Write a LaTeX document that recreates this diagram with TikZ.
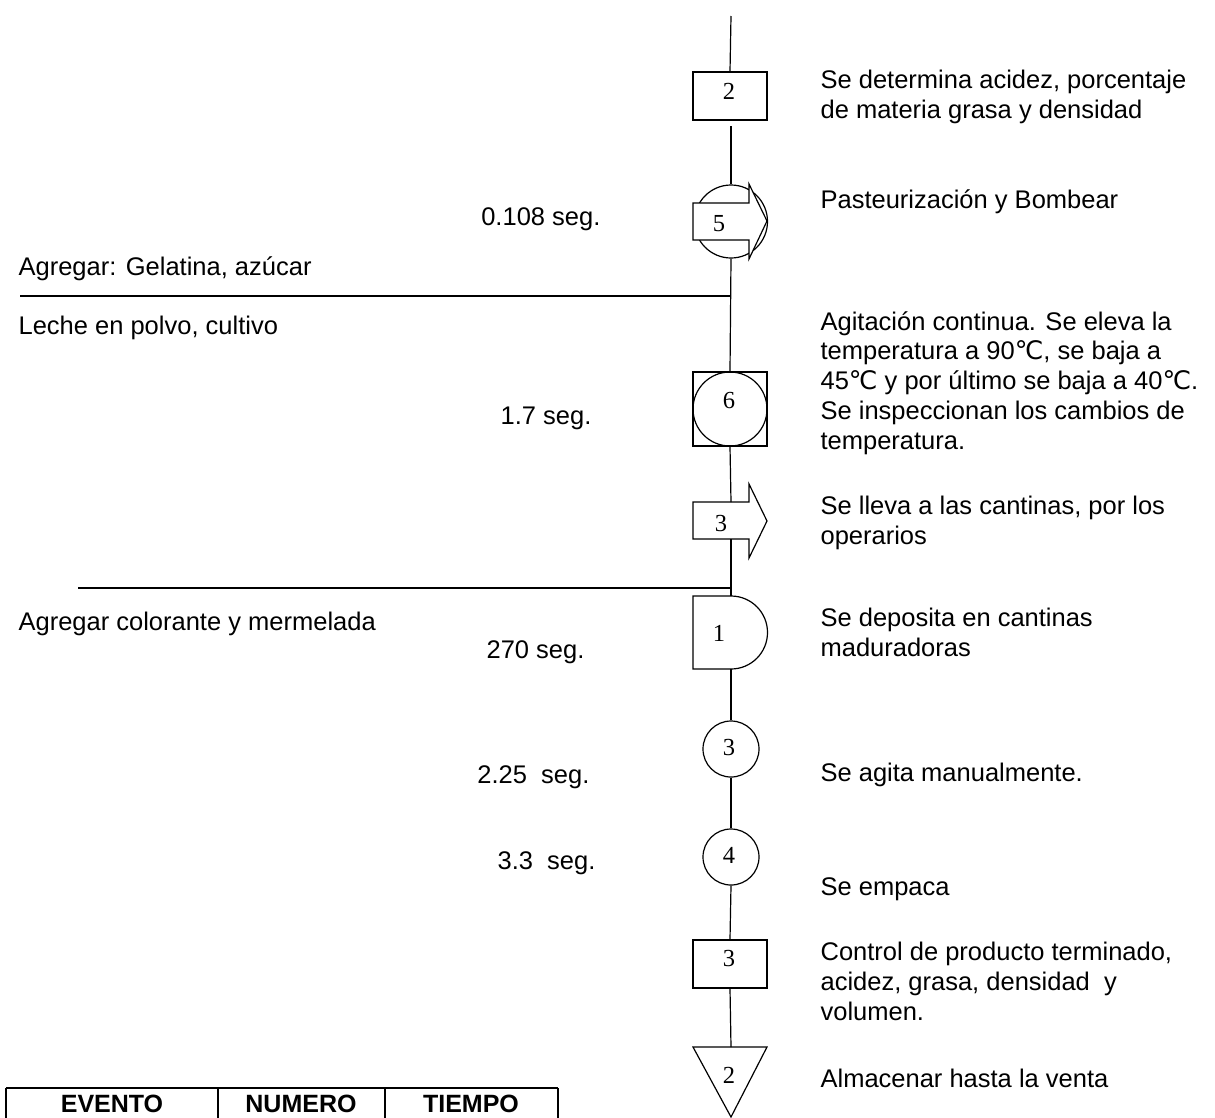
\documentclass[tikz,border=0pt]{standalone}
\usepackage{fontspec}
\setmainfont{Liberation Sans}
\newfontfamily\numfont{Liberation Serif}
\newfontfamily\symfont{DejaVu Sans}
\newcommand{\degc}{{\symfont ℃}}
\begin{document}
\begin{tikzpicture}[x=1pt,y=-1pt,line width=1.2pt,
  txt/.style={anchor=base west,inner sep=0pt,align=left,font=\fontsize{25.5}{29.7}\selectfont},
  tim/.style={anchor=base east,inner sep=0pt,font=\fontsize{25.5}{29.7}\selectfont},
  num/.style={inner sep=0pt,font=\numfont\fontsize{24.5}{28}\selectfont},
  hdr/.style={inner sep=0pt,anchor=base,font=\bfseries\fontsize{25}{29}\selectfont},
  sym/.style={draw,fill=white,line width=1.2pt}]
\useasboundingbox (0,0) rectangle (1215,1117);
\begin{scope}
\clip (0,0) rectangle (1215,1117);

% operation symbols on the main line
\node[sym,rectangle,minimum width=74pt,minimum height=48pt,inner sep=0pt] (box2) at (730,96) {};
\node[sym,circle,minimum size=73pt,inner sep=0pt] (op5) at (731,221.5) {};
\coordinate (gap2) at (731,126);
% transport arrow over operation 5
\draw[fill=white] (693,203) -- (749,203) -- (749,184) -- (767,221) -- (749,259) -- (749,240) -- (693,240) -- cycle;

\node[sym,rectangle,minimum size=74pt,inner sep=0pt] (op6) at (730,409) {};
\draw (op6) circle[radius=37];

\coordinate (tr3n) at (731,502);
\coordinate (tr3s) at (731,539);
\draw[fill=white] (693,502) -- (749,502) -- (749,484) -- (767,521) -- (749,558) -- (749,539) -- (693,539) -- cycle;

\coordinate (dl1n) at (731,596);
\coordinate (dl1s) at (731,669);
\draw[fill=white] (731,596) -- (693,596) -- (693,669) -- (731,669) arc[start angle=90,end angle=-90,radius=36.5] -- cycle;

\node[sym,circle,minimum size=56pt,inner sep=0pt] (c3) at (731,749) {};
\node[sym,circle,minimum size=56pt,inner sep=0pt] (c4) at (731,857) {};
\node[sym,rectangle,minimum width=74pt,minimum height=48pt,inner sep=0pt] (box3) at (730,964) {};
\coordinate (tri2n) at (731,1047);
\draw[fill=white] (693,1047) -- (767,1047) -- (731,1117) -- cycle;

% numbers inside the symbols
\node[num] (n2a) at (729,91) {2};
\node[num] (n5) at (719,224) {5};
\node[num] (n6) at (729,401) {6};
\node[num] (n3a) at (721,523) {3};
\node[num] (n1) at (719,633) {1};
\node[num] (n3b) at (729,747) {3};
\node[num] (n4) at (729,855) {4};
\node[num] (n3c) at (729,958) {3};
\node[num] (n2b) at (729,1075) {2};

% main flow line
\coordinate (start) at (731,16);
\draw (start) -- (box2.north);
\draw (gap2) -- (op5.north);
\draw (op5.south) -- (op6.north);
\draw (op6.south) -- (tr3n);
\draw (tr3s) -- (dl1n);
\draw (dl1s) -- (c3.north);
\draw (c3.south) -- (c4.north);
\draw (c4.south) -- (box3.north);
\draw (box3.south) -- (tri2n);

% material inputs
\coordinate (in1) at (20,296);
\coordinate (j1) at (731,296);
\coordinate (in2) at (78,588);
\coordinate (j2) at (731,588);
\draw (in1) -- (j1);
\draw (in2) -- (j2);

% descriptions (anchored at the baseline of the last line)
\node[txt] (d1) at (820,118) {Se determina acidez, porcentaje\\de materia grasa y densidad};
\node[txt] (d2) at (820,208) {Pasteurización y Bombear};
\node[txt] (d3) at (820,449) {Agitación continua. Se eleva la\\temperatura a 90\degc, se baja a\\45\degc{} y por último se baja a 40\degc.\\Se inspeccionan los cambios de\\temperatura.};
\node[txt] (d4) at (820,544) {Se lleva a las cantinas, por los\\operarios};
\node[txt] (d5) at (820,656) {Se deposita en cantinas\\maduradoras};
\node[txt] (d6) at (820,781) {Se agita manualmente.};
\node[txt] (d7) at (820,895) {Se empaca};
\node[txt] (d8) at (820,1020) {Control de producto terminado,\\acidez, grasa, densidad~ y\\volumen.};
\node[txt] (d9) at (820,1087) {Almacenar hasta la venta};

% times and inputs
\node[tim] (t1) at (601,225) {0.108 seg.};
\node[txt] (i1) at (18,275) {Agregar: Gelatina, azúcar};
\node[txt] (i2) at (18,334) {Leche en polvo, cultivo};
\node[tim] (t2) at (592,424) {1.7 seg.};
\node[txt] (i3) at (18,630) {Agregar colorante y mermelada};
\node[tim] (t3) at (585,658) {270 seg.};
\node[tim] (t4) at (590,783) {2.25~ seg.};
\node[tim] (t5) at (596,869) {3.3~ seg.};

% summary table header
\draw (6,1088) -- (558,1088);
\draw (6,1088) -- (6,1130);
\draw (218,1088) -- (218,1130);
\draw (385,1088) -- (385,1130);
\draw (558,1088) -- (558,1130);
\node[hdr] (h1) at (112,1112) {EVENTO};
\node[hdr] (h2) at (301,1112) {NUMERO};
\node[hdr] (h3) at (471,1112) {TIEMPO};
\end{scope}
\end{tikzpicture}
\end{document}
